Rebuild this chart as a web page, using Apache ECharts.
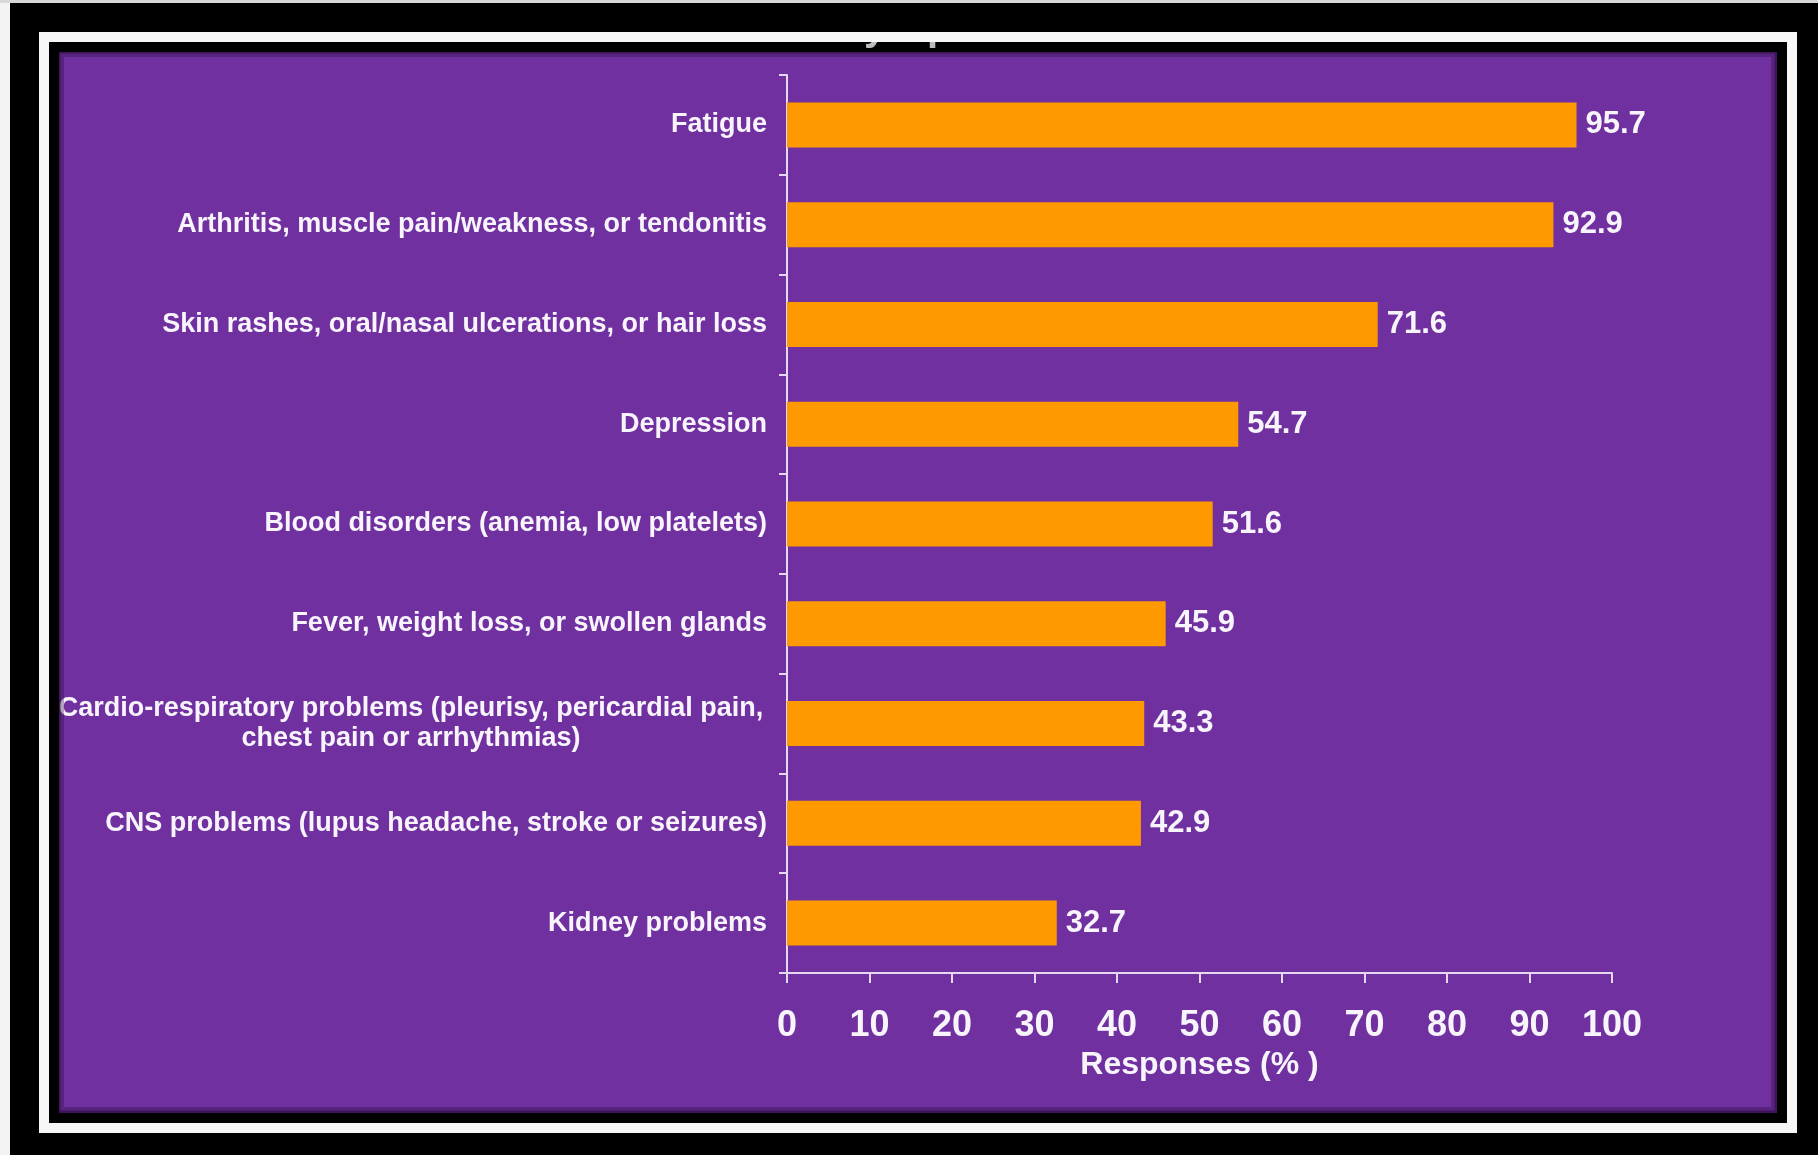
<!DOCTYPE html>
<html>
<head>
<meta charset="utf-8">
<script src="https://cdn.jsdelivr.net/npm/echarts@6/dist/echarts.min.js"></script>
<style>
html,body{margin:0;padding:0;background:#f2f2f2;}
#chart{width:1818px;height:1155px;}
</style>
</head>
<body>
<div id="chart"></div>
<script>
const categories = [
  'Fatigue',
  'Arthritis, muscle pain/weakness, or tendonitis',
  'Skin rashes, oral/nasal ulcerations, or hair loss',
  'Depression',
  'Blood disorders (anemia, low platelets)',
  'Fever, weight loss, or swollen glands',
  'Cardio-respiratory problems (pleurisy, pericardial pain,\nchest pain or arrhythmias)',
  'CNS problems (lupus headache, stroke or seizures)',
  'Kidney problems'
];
const responses = [95.7, 92.9, 71.6, 54.7, 51.6, 45.9, 43.3, 42.9, 32.7];
const xAxisName = 'Responses (% )';
const xMin = 0, xMax = 100, xStep = 10;

const FONT = "'Liberation Sans', Arial, sans-serif";
const PURPLE = '#7030a0';
const ORANGE = '#ff9900';
const TEXT = '#f8f4fc';
const AXIS = '#e4d8f0';

function ring(x1, y1, x2, y2, lw, color, z) {
  return {
    type: 'rect', silent: true, z: z,
    shape: { x: x1, y: y1, width: x2 - x1, height: y2 - y1 },
    style: { fill: null, stroke: color, lineWidth: lw }
  };
}

const chart = echarts.init(document.getElementById('chart'), null, { renderer: 'canvas' });
chart.setOption({
  backgroundColor: PURPLE,
  animation: false,
  grid: { left: 787, right: 206, top: 75, bottom: 182, containLabel: false },
  xAxis: {
    type: 'value', min: xMin, max: xMax, interval: xStep,
    name: xAxisName, nameLocation: 'middle', nameGap: 76,
    nameTextStyle: { color: TEXT, fontSize: 32, fontWeight: 'bold', fontFamily: FONT },
    axisLine: { show: true, lineStyle: { color: AXIS, width: 2 } },
    axisTick: { show: true, length: 10, lineStyle: { color: AXIS, width: 2 } },
    axisLabel: { color: TEXT, fontSize: 36, fontWeight: 'bold', fontFamily: FONT, margin: 35 },
    splitLine: { show: false }
  },
  yAxis: {
    type: 'category', data: categories, inverse: true,
    axisLine: { show: true, lineStyle: { color: AXIS, width: 2 } },
    axisTick: { show: true, length: 8, lineStyle: { color: AXIS, width: 2 } },
    axisLabel: {
      color: TEXT, fontSize: 27, fontWeight: 'bold', fontFamily: FONT, margin: 20,
      lineHeight: 30,
      formatter: function (v) {
        if (v.indexOf('\n') >= 0) {
          return v.split('\n').map(function (s) { return '{c|' + s + '}'; }).join('\n');
        }
        return v;
      },
      rich: {
        c: { width: 712, align: 'center', color: TEXT, fontSize: 27, fontWeight: 'bold', fontFamily: FONT, lineHeight: 30 }
      }
    }
  },
  series: [{
    type: 'bar', data: responses, barWidth: 45,
    itemStyle: { color: ORANGE },
    label: {
      show: true, position: 'right', distance: 9,
      color: TEXT, fontSize: 31, fontWeight: 'bold', fontFamily: FONT,
      formatter: function (p) { return p.value.toFixed(1); }
    }
  }],
  graphic: [
    // inner shadow along purple edge
    ring(61, 54, 1774, 1110, 6, 'rgba(45,15,70,0.35)', 95),
    ring(59, 52, 1776, 1112, 3, 'rgba(40,10,60,0.55)', 96),
    // inner black ring
    ring(54, 47, 1782, 1118, 10, '#000000', 100),
    // remnants of a clipped title, peeking out below the white band
    { type: 'text', silent: true, z: 100.5, x: 864, y: 29, style: { text: 'y', fill: '#bcbcbc', font: "bold 40px 'Liberation Sans', Arial", verticalAlign: 'middle' } },
    { type: 'text', silent: true, z: 100.5, x: 927, y: 29, style: { text: 'p', fill: '#bcbcbc', font: "bold 40px 'Liberation Sans', Arial", verticalAlign: 'middle' } },
    // white ring
    ring(44, 37, 1792, 1128, 10, '#f7f7f7', 101),
    // outer black ring
    ring(24.5, 17.5, 1811.5, 1147.5, 29, '#000000', 102),
    // outside strips
    { type: 'rect', silent: true, z: 103, shape: { x: 0, y: 0, width: 10, height: 1155 }, style: { fill: '#f3f3f3' } },
    { type: 'rect', silent: true, z: 103, shape: { x: 0, y: 0, width: 1818, height: 3 }, style: { fill: '#d8d8d8' } }
  ]
});
</script>
</body>
</html>
